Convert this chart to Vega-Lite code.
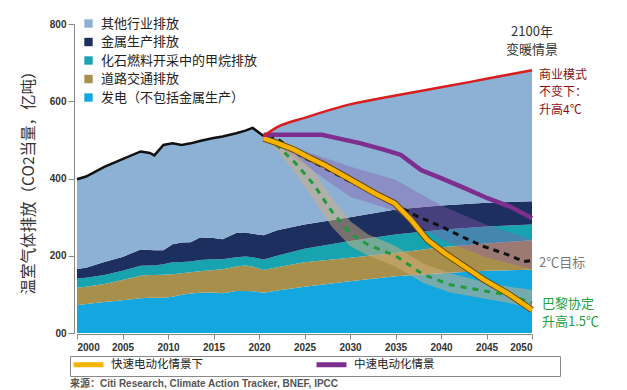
{
  "$schema": "https://vega.github.io/schema/vega-lite/v6.json",
  "width": 455,
  "height": 309,
  "autosize": "none",
  "padding": {"left": 77, "top": 24, "right": 95, "bottom": 57},
  "background": "white",
  "config": {"view": {"stroke": null}, "font": "Noto Sans CJK SC"},
  "title": {"text": "来源：Citi Research, Climate Action Tracker, BNEF, IPCC", "orient": "bottom", "anchor": "start", "frame": "group", "font": "Liberation Sans, Noto Sans CJK SC", "fontSize": 10, "fontWeight": "bold", "color": "#555", "offset": 2, "dx": -7},
  "datasets": {
    "sectorOrder": [
      {"sector": "发电（不包括金属生产）", "rank": 1},
      {"sector": "道路交通排放", "rank": 2},
      {"sector": "化石燃料开采中的甲烷排放", "rank": 3},
      {"sector": "金属生产排放", "rank": 4},
      {"sector": "其他行业排放", "rank": 5}
    ],
    "areas": [
      {"year": 2000, "sector": "发电（不包括金属生产）", "value": 72}, {"year": 2000, "sector": "道路交通排放", "value": 45}, {"year": 2000, "sector": "化石燃料开采中的甲烷排放", "value": 24}, {"year": 2000, "sector": "金属生产排放", "value": 25}, {"year": 2000, "sector": "其他行业排放", "value": 232},
      {"year": 2001, "sector": "发电（不包括金属生产）", "value": 75}, {"year": 2001, "sector": "道路交通排放", "value": 45}, {"year": 2001, "sector": "化石燃料开采中的甲烷排放", "value": 23}, {"year": 2001, "sector": "金属生产排放", "value": 26}, {"year": 2001, "sector": "其他行业排放", "value": 236},
      {"year": 2003, "sector": "发电（不包括金属生产）", "value": 80}, {"year": 2003, "sector": "道路交通排放", "value": 47}, {"year": 2003, "sector": "化石燃料开采中的甲烷排放", "value": 23}, {"year": 2003, "sector": "金属生产排放", "value": 34}, {"year": 2003, "sector": "其他行业排放", "value": 246},
      {"year": 2005, "sector": "发电（不包括金属生产）", "value": 85}, {"year": 2005, "sector": "道路交通排放", "value": 52}, {"year": 2005, "sector": "化石燃料开采中的甲烷排放", "value": 24}, {"year": 2005, "sector": "金属生产排放", "value": 36}, {"year": 2005, "sector": "其他行业排放", "value": 253},
      {"year": 2007, "sector": "发电（不包括金属生产）", "value": 90}, {"year": 2007, "sector": "道路交通排放", "value": 58}, {"year": 2007, "sector": "化石燃料开采中的甲烷排放", "value": 26}, {"year": 2007, "sector": "金属生产排放", "value": 42}, {"year": 2007, "sector": "其他行业排放", "value": 254},
      {"year": 2008, "sector": "发电（不包括金属生产）", "value": 91}, {"year": 2008, "sector": "道路交通排放", "value": 59}, {"year": 2008, "sector": "化石燃料开采中的甲烷排放", "value": 25}, {"year": 2008, "sector": "金属生产排放", "value": 40}, {"year": 2008, "sector": "其他行业排放", "value": 251},
      {"year": 2008.5, "sector": "发电（不包括金属生产）", "value": 91}, {"year": 2008.5, "sector": "道路交通排放", "value": 59}, {"year": 2008.5, "sector": "化石燃料开采中的甲烷排放", "value": 25}, {"year": 2008.5, "sector": "金属生产排放", "value": 39}, {"year": 2008.5, "sector": "其他行业排放", "value": 246},
      {"year": 2009.5, "sector": "发电（不包括金属生产）", "value": 91}, {"year": 2009.5, "sector": "道路交通排放", "value": 60}, {"year": 2009.5, "sector": "化石燃料开采中的甲烷排放", "value": 27}, {"year": 2009.5, "sector": "金属生产排放", "value": 36}, {"year": 2009.5, "sector": "其他行业排放", "value": 273},
      {"year": 2010.5, "sector": "发电（不包括金属生产）", "value": 94}, {"year": 2010.5, "sector": "道路交通排放", "value": 58}, {"year": 2010.5, "sector": "化石燃料开采中的甲烷排放", "value": 31}, {"year": 2010.5, "sector": "金属生产排放", "value": 47}, {"year": 2010.5, "sector": "其他行业排放", "value": 261},
      {"year": 2011.5, "sector": "发电（不包括金属生产）", "value": 99}, {"year": 2011.5, "sector": "道路交通排放", "value": 56}, {"year": 2011.5, "sector": "化石燃料开采中的甲烷排放", "value": 29}, {"year": 2011.5, "sector": "金属生产排放", "value": 50}, {"year": 2011.5, "sector": "其他行业排放", "value": 253},
      {"year": 2012.5, "sector": "发电（不包括金属生产）", "value": 102}, {"year": 2012.5, "sector": "道路交通排放", "value": 55}, {"year": 2012.5, "sector": "化石燃料开采中的甲烷排放", "value": 28}, {"year": 2012.5, "sector": "金属生产排放", "value": 50}, {"year": 2012.5, "sector": "其他行业排放", "value": 256},
      {"year": 2013.5, "sector": "发电（不包括金属生产）", "value": 104}, {"year": 2013.5, "sector": "道路交通排放", "value": 56}, {"year": 2013.5, "sector": "化石燃料开采中的甲烷排放", "value": 29}, {"year": 2013.5, "sector": "金属生产排放", "value": 58}, {"year": 2013.5, "sector": "其他行业排放", "value": 250},
      {"year": 2015, "sector": "发电（不包括金属生产）", "value": 105}, {"year": 2015, "sector": "道路交通排放", "value": 58}, {"year": 2015, "sector": "化石燃料开采中的甲烷排放", "value": 28}, {"year": 2015, "sector": "金属生产排放", "value": 55}, {"year": 2015, "sector": "其他行业排放", "value": 259},
      {"year": 2016, "sector": "发电（不包括金属生产）", "value": 103}, {"year": 2016, "sector": "道路交通排放", "value": 62}, {"year": 2016, "sector": "化石燃料开采中的甲烷排放", "value": 26}, {"year": 2016, "sector": "金属生产排放", "value": 52}, {"year": 2016, "sector": "其他行业排放", "value": 266},
      {"year": 2017.5, "sector": "发电（不包括金属生产）", "value": 109}, {"year": 2017.5, "sector": "道路交通排放", "value": 63}, {"year": 2017.5, "sector": "化石燃料开采中的甲烷排放", "value": 24}, {"year": 2017.5, "sector": "金属生产排放", "value": 63}, {"year": 2017.5, "sector": "其他行业排放", "value": 258},
      {"year": 2018.5, "sector": "发电（不包括金属生产）", "value": 109}, {"year": 2018.5, "sector": "道路交通排放", "value": 66}, {"year": 2018.5, "sector": "化石燃料开采中的甲烷排放", "value": 23}, {"year": 2018.5, "sector": "金属生产排放", "value": 62}, {"year": 2018.5, "sector": "其他行业排放", "value": 264},
      {"year": 2019.3, "sector": "发电（不包括金属生产）", "value": 108}, {"year": 2019.3, "sector": "道路交通排放", "value": 64}, {"year": 2019.3, "sector": "化石燃料开采中的甲烷排放", "value": 24}, {"year": 2019.3, "sector": "金属生产排放", "value": 61}, {"year": 2019.3, "sector": "其他行业排放", "value": 274},
      {"year": 2020.5, "sector": "发电（不包括金属生产）", "value": 104}, {"year": 2020.5, "sector": "道路交通排放", "value": 59}, {"year": 2020.5, "sector": "化石燃料开采中的甲烷排放", "value": 27}, {"year": 2020.5, "sector": "金属生产排放", "value": 63}, {"year": 2020.5, "sector": "其他行业排放", "value": 257},
      {"year": 2022, "sector": "发电（不包括金属生产）", "value": 110}, {"year": 2022, "sector": "道路交通排放", "value": 60}, {"year": 2022, "sector": "化石燃料开采中的甲烷排放", "value": 30}, {"year": 2022, "sector": "金属生产排放", "value": 66}, {"year": 2022, "sector": "其他行业排放", "value": 267},
      {"year": 2025, "sector": "发电（不包括金属生产）", "value": 120}, {"year": 2025, "sector": "道路交通排放", "value": 63}, {"year": 2025, "sector": "化石燃料开采中的甲烷排放", "value": 35}, {"year": 2025, "sector": "金属生产排放", "value": 63}, {"year": 2025, "sector": "其他行业排放", "value": 276},
      {"year": 2030, "sector": "发电（不包括金属生产）", "value": 134}, {"year": 2030, "sector": "道路交通排放", "value": 61}, {"year": 2030, "sector": "化石燃料开采中的甲烷排放", "value": 43}, {"year": 2030, "sector": "金属生产排放", "value": 62}, {"year": 2030, "sector": "其他行业排放", "value": 292},
      {"year": 2035, "sector": "发电（不包括金属生产）", "value": 147}, {"year": 2035, "sector": "道路交通排放", "value": 60}, {"year": 2035, "sector": "化石燃料开采中的甲烷排放", "value": 48}, {"year": 2035, "sector": "金属生产排放", "value": 65}, {"year": 2035, "sector": "其他行业排放", "value": 295},
      {"year": 2040, "sector": "发电（不包括金属生产）", "value": 155}, {"year": 2040, "sector": "道路交通排放", "value": 67}, {"year": 2040, "sector": "化石燃料开采中的甲烷排放", "value": 45}, {"year": 2040, "sector": "金属生产排放", "value": 63}, {"year": 2040, "sector": "其他行业排放", "value": 306},
      {"year": 2045, "sector": "发电（不包括金属生产）", "value": 161}, {"year": 2045, "sector": "道路交通排放", "value": 71}, {"year": 2045, "sector": "化石燃料开采中的甲烷排放", "value": 44}, {"year": 2045, "sector": "金属生产排放", "value": 61}, {"year": 2045, "sector": "其他行业排放", "value": 321},
      {"year": 2050, "sector": "发电（不包括金属生产）", "value": 164}, {"year": 2050, "sector": "道路交通排放", "value": 76}, {"year": 2050, "sector": "化石燃料开采中的甲烷排放", "value": 41}, {"year": 2050, "sector": "金属生产排放", "value": 60}, {"year": 2050, "sector": "其他行业排放", "value": 339}
    ],
    "bands": [
      {"scenario": "2℃", "year": 2021, "lo": 503, "hi": 510},
      {"scenario": "2℃", "year": 2025, "lo": 435, "hi": 471},
      {"scenario": "2℃", "year": 2030, "lo": 353, "hi": 431},
      {"scenario": "2℃", "year": 2035, "lo": 316, "hi": 397},
      {"scenario": "2℃", "year": 2040, "lo": 242, "hi": 330},
      {"scenario": "2℃", "year": 2045, "lo": 196, "hi": 280},
      {"scenario": "2℃", "year": 2050, "lo": 165, "hi": 242},
      {"scenario": "1.5℃", "year": 2020.7, "lo": 500, "hi": 508},
      {"scenario": "1.5℃", "year": 2022, "lo": 472, "hi": 495},
      {"scenario": "1.5℃", "year": 2024, "lo": 415, "hi": 462},
      {"scenario": "1.5℃", "year": 2026, "lo": 345, "hi": 420},
      {"scenario": "1.5℃", "year": 2028, "lo": 275, "hi": 350},
      {"scenario": "1.5℃", "year": 2030, "lo": 225, "hi": 290},
      {"scenario": "1.5℃", "year": 2032, "lo": 200, "hi": 255},
      {"scenario": "1.5℃", "year": 2035, "lo": 172, "hi": 225},
      {"scenario": "1.5℃", "year": 2038, "lo": 130, "hi": 180},
      {"scenario": "1.5℃", "year": 2041, "lo": 105, "hi": 155},
      {"scenario": "1.5℃", "year": 2045, "lo": 88, "hi": 130},
      {"scenario": "1.5℃", "year": 2048, "lo": 75, "hi": 118},
      {"scenario": "1.5℃", "year": 2050, "lo": 60, "hi": 112}
    ],
    "lines": [
      {"series": "历史排放", "year": 2000, "value": 398}, {"series": "历史排放", "year": 2001, "value": 405}, {"series": "历史排放", "year": 2003, "value": 430}, {"series": "历史排放", "year": 2005, "value": 450}, {"series": "历史排放", "year": 2007, "value": 470}, {"series": "历史排放", "year": 2008, "value": 466}, {"series": "历史排放", "year": 2008.5, "value": 460}, {"series": "历史排放", "year": 2009.5, "value": 487}, {"series": "历史排放", "year": 2010.5, "value": 491}, {"series": "历史排放", "year": 2011.5, "value": 487}, {"series": "历史排放", "year": 2012.5, "value": 491}, {"series": "历史排放", "year": 2013.5, "value": 497}, {"series": "历史排放", "year": 2015, "value": 505}, {"series": "历史排放", "year": 2016, "value": 509}, {"series": "历史排放", "year": 2017.5, "value": 517}, {"series": "历史排放", "year": 2018.5, "value": 524}, {"series": "历史排放", "year": 2019.3, "value": 531}, {"series": "历史排放", "year": 2020.5, "value": 510},
      {"series": "商业模式不变", "year": 2020.5, "value": 510}, {"series": "商业模式不变", "year": 2022, "value": 533}, {"series": "商业模式不变", "year": 2025, "value": 557}, {"series": "商业模式不变", "year": 2030, "value": 592}, {"series": "商业模式不变", "year": 2035, "value": 615}, {"series": "商业模式不变", "year": 2040, "value": 636}, {"series": "商业模式不变", "year": 2045, "value": 658}, {"series": "商业模式不变", "year": 2050, "value": 680},
      {"series": "2℃目标", "year": 2021, "value": 509}, {"series": "2℃目标", "year": 2022, "value": 503}, {"series": "2℃目标", "year": 2024.7, "value": 457}, {"series": "2℃目标", "year": 2027.2, "value": 428}, {"series": "2℃目标", "year": 2030, "value": 392}, {"series": "2℃目标", "year": 2032.7, "value": 362}, {"series": "2℃目标", "year": 2035, "value": 332}, {"series": "2℃目标", "year": 2037.4, "value": 302}, {"series": "2℃目标", "year": 2040, "value": 276}, {"series": "2℃目标", "year": 2042.6, "value": 246}, {"series": "2℃目标", "year": 2044.7, "value": 224}, {"series": "2℃目标", "year": 2047.3, "value": 203}, {"series": "2℃目标", "year": 2049.1, "value": 185}, {"series": "2℃目标", "year": 2050, "value": 188},
      {"series": "巴黎协定1.5℃", "year": 2020.7, "value": 504}, {"series": "巴黎协定1.5℃", "year": 2022, "value": 485}, {"series": "巴黎协定1.5℃", "year": 2024, "value": 440}, {"series": "巴黎协定1.5℃", "year": 2026, "value": 385}, {"series": "巴黎协定1.5℃", "year": 2028, "value": 315}, {"series": "巴黎协定1.5℃", "year": 2030, "value": 258}, {"series": "巴黎协定1.5℃", "year": 2032, "value": 228}, {"series": "巴黎协定1.5℃", "year": 2035, "value": 200}, {"series": "巴黎协定1.5℃", "year": 2038, "value": 152}, {"series": "巴黎协定1.5℃", "year": 2041, "value": 125}, {"series": "巴黎协定1.5℃", "year": 2045, "value": 108}, {"series": "巴黎协定1.5℃", "year": 2048, "value": 95}, {"series": "巴黎协定1.5℃", "year": 2050, "value": 78},
      {"series": "快速电动化情景下", "year": 2020.5, "value": 504}, {"series": "快速电动化情景下", "year": 2022.1, "value": 491}, {"series": "快速电动化情景下", "year": 2023.9, "value": 474}, {"series": "快速电动化情景下", "year": 2025.6, "value": 453}, {"series": "快速电动化情景下", "year": 2027.2, "value": 435}, {"series": "快速电动化情景下", "year": 2030.1, "value": 397}, {"series": "快速电动化情景下", "year": 2032.7, "value": 362}, {"series": "快速电动化情景下", "year": 2034.9, "value": 336}, {"series": "快速电动化情景下", "year": 2036.7, "value": 293}, {"series": "快速电动化情景下", "year": 2038.5, "value": 241}, {"series": "快速电动化情景下", "year": 2040.4, "value": 207}, {"series": "快速电动化情景下", "year": 2042.6, "value": 172}, {"series": "快速电动化情景下", "year": 2044.7, "value": 138}, {"series": "快速电动化情景下", "year": 2047.3, "value": 103}, {"series": "快速电动化情景下", "year": 2050, "value": 60},
      {"series": "中速电动化情景", "year": 2020.5, "value": 513}, {"series": "中速电动化情景", "year": 2022.8, "value": 513}, {"series": "中速电动化情景", "year": 2026.9, "value": 513}, {"series": "中速电动化情景", "year": 2028.7, "value": 504}, {"series": "中速电动化情景", "year": 2031.2, "value": 491}, {"series": "中速电动化情景", "year": 2033.8, "value": 474}, {"series": "中速电动化情景", "year": 2035.6, "value": 461}, {"series": "中速电动化情景", "year": 2037.8, "value": 422}, {"series": "中速电动化情景", "year": 2040, "value": 401}, {"series": "中速电动化情景", "year": 2042.6, "value": 375}, {"series": "中速电动化情景", "year": 2045.1, "value": 349}, {"series": "中速电动化情景", "year": 2047.7, "value": 326}, {"series": "中速电动化情景", "year": 2050, "value": 297}
    ],
    "notes": [
      {"note": "warming", "year": 2050, "value": 779, "text": ["2100年", "变暖情景"]},
      {"note": "bau", "year": 2050, "value": 668, "text": ["商业模式", "不变下：", "升高4℃"]},
      {"note": "t2", "year": 2050, "value": 181, "text": ["2℃目标"]},
      {"note": "t15", "year": 2050, "value": 74, "text": ["巴黎协定", "升高1.5℃"]}
    ]
  },
  "encoding": {
    "x": {"field": "year", "type": "quantitative", "title": null,
      "scale": {"domain": [2000, 2050], "nice": false, "zero": false},
      "axis": {"values": [2000, 2005, 2010, 2015, 2020, 2025, 2030, 2035, 2040, 2045, 2050], "format": "d", "grid": false, "offset": 1, "tickSize": 5, "tickColor": "#888", "domainColor": "#888", "labelFont": "Liberation Sans", "labelFontWeight": "bold", "labelFontSize": 10, "labelColor": "#333", "labelPadding": 3}}
  },
  "layer": [
    {
      "data": {"name": "areas"},
      "transform": [{"lookup": "sector", "from": {"data": {"name": "sectorOrder"}, "key": "sector", "fields": ["rank"]}}],
      "mark": {"type": "area", "opacity": 1},
      "encoding": {
        "y": {"field": "value", "type": "quantitative", "stack": "zero",
          "scale": {"domain": [0, 800], "nice": false},
          "axis": {"title": "温室气体排放（CO2当量，亿吨）　　　　", "values": [0, 100, 200, 300, 400, 500, 600, 700, 800], "labelExpr": "datum.value === 0 ? '00' : datum.label", "grid": false, "offset": 3, "tickSize": 6, "tickColor": "#888", "domainColor": "#888", "labelFont": "Liberation Sans", "labelFontWeight": "bold", "labelFontSize": 10, "labelColor": "#333", "labelPadding": 2, "titleFont": "Noto Sans CJK SC", "titleFontSize": 15.5, "titleFontWeight": "normal", "titleColor": "#333", "titleX": -46, "titleBaseline": "middle", "titleAngle": -90, "titleAlign": "center", "titleLimit": 400}},
        "order": {"field": "rank", "type": "quantitative"},
        "color": {"field": "sector", "type": "nominal",
          "scale": {"domain": ["发电（不包括金属生产）", "道路交通排放", "化石燃料开采中的甲烷排放", "金属生产排放", "其他行业排放"], "range": ["#14a7df", "#a98f4c", "#18a3b0", "#1c2f5e", "#8db1d4"]},
          "legend": {"orient": "none", "legendX": 5, "legendY": -7, "title": null, "values": ["其他行业排放", "金属生产排放", "化石燃料开采中的甲烷排放", "道路交通排放", "发电（不包括金属生产）"], "symbolType": "square", "symbolSize": 70, "symbolStrokeWidth": 0, "symbolOpacity": 1, "labelFont": "Noto Sans CJK SC", "labelFontSize": 13, "labelColor": "#222", "labelOffset": 6, "rowPadding": 4.5, "padding": 0, "labelLimit": 300}}
      }
    },
    {
      "data": {"name": "bands"},
      "transform": [{"filter": {"field": "scenario", "equal": "2℃"}}],
      "mark": {"type": "area", "color": "#8a5ab0", "opacity": 0.4},
      "encoding": {"y": {"field": "lo", "type": "quantitative"}, "y2": {"field": "hi"}}
    },
    {
      "data": {"name": "bands"},
      "transform": [{"filter": {"field": "scenario", "equal": "1.5℃"}}],
      "mark": {"type": "area", "color": "#d4b080", "opacity": 0.5},
      "encoding": {"y": {"field": "lo", "type": "quantitative"}, "y2": {"field": "hi"}}
    },
    {
      "data": {"name": "lines"},
      "transform": [{"filter": {"field": "series", "equal": "2℃目标"}}],
      "mark": {"type": "line", "color": "#111", "strokeWidth": 3, "strokeDash": [6, 5]},
      "encoding": {"y": {"field": "value", "type": "quantitative"}}
    },
    {
      "data": {"name": "lines"},
      "transform": [{"filter": {"field": "series", "equal": "巴黎协定1.5℃"}}],
      "mark": {"type": "line", "color": "#1f9a3c", "strokeWidth": 3, "strokeDash": [6, 6]},
      "encoding": {"y": {"field": "value", "type": "quantitative"}}
    },
    {
      "data": {"name": "lines"},
      "transform": [{"filter": {"field": "series", "equal": "快速电动化情景下"}}],
      "mark": {"type": "line", "color": "#6a4a10", "strokeWidth": 6.5},
      "encoding": {"y": {"field": "value", "type": "quantitative"}}
    },
    {
      "data": {"name": "lines"},
      "transform": [{"filter": {"field": "series", "oneOf": ["快速电动化情景下", "中速电动化情景"]}}],
      "mark": {"type": "line", "strokeWidth": 4.5},
      "encoding": {
        "y": {"field": "value", "type": "quantitative"},
        "color": {"field": "series", "type": "nominal",
          "scale": {"domain": ["快速电动化情景下", "中速电动化情景"], "range": ["#f6b400", "#7d2e8e"]},
          "legend": {"orient": "none", "legendX": -7, "legendY": 332, "direction": "horizontal", "title": "中", "titleColor": "#ffffff", "titleFontSize": 11, "titleOrient": "right", "titlePadding": 114, "strokeColor": "#888", "padding": 1, "symbolType": "M-1,0H5", "symbolSize": 100, "symbolStrokeWidth": 5, "labelFont": "Noto Sans CJK SC", "labelFontSize": 11.5, "labelColor": "#222", "labelOffset": 25, "columnPadding": 103, "labelLimit": 400}}
      }
    },
    {
      "data": {"name": "lines"},
      "transform": [{"filter": {"field": "series", "equal": "历史排放"}}],
      "mark": {"type": "line", "color": "#111", "strokeWidth": 2.5},
      "encoding": {"y": {"field": "value", "type": "quantitative"}}
    },
    {
      "data": {"name": "lines"},
      "transform": [{"filter": {"field": "series", "equal": "商业模式不变"}}],
      "mark": {"type": "line", "color": "#d81e1e", "strokeWidth": 2.5, "interpolate": "monotone"},
      "encoding": {"y": {"field": "value", "type": "quantitative"}}
    },
    {
      "data": {"name": "notes"},
      "transform": [{"filter": {"field": "note", "equal": "warming"}}],
      "mark": {"type": "text", "align": "center", "baseline": "middle", "fontSize": 13, "lineHeight": 17.5, "color": "#333", "font": "Noto Sans CJK SC"},
      "encoding": {"y": {"field": "value", "type": "quantitative"}, "text": {"field": "text"}}
    },
    {
      "data": {"name": "notes"},
      "transform": [{"filter": {"field": "note", "equal": "bau"}}],
      "mark": {"type": "text", "align": "left", "baseline": "middle", "dx": 7, "fontSize": 12, "lineHeight": 17.5, "color": "#8a1010", "font": "Noto Sans CJK SC"},
      "encoding": {"y": {"field": "value", "type": "quantitative"}, "text": {"field": "text"}}
    },
    {
      "data": {"name": "notes"},
      "transform": [{"filter": {"field": "note", "equal": "t2"}}],
      "mark": {"type": "text", "align": "left", "baseline": "middle", "dx": 7, "fontSize": 13, "color": "#7a7a7a", "font": "Noto Sans CJK SC"},
      "encoding": {"y": {"field": "value", "type": "quantitative"}, "text": {"field": "text"}}
    },
    {
      "data": {"name": "notes"},
      "transform": [{"filter": {"field": "note", "equal": "t15"}}],
      "mark": {"type": "text", "align": "left", "baseline": "middle", "dx": 10, "fontSize": 13, "lineHeight": 17.3, "color": "#22a040", "font": "Noto Sans CJK SC"},
      "encoding": {"y": {"field": "value", "type": "quantitative"}, "text": {"field": "text"}}
    }
  ],
  "resolve": {"scale": {"color": "independent"}, "legend": {"color": "independent"}}
}
